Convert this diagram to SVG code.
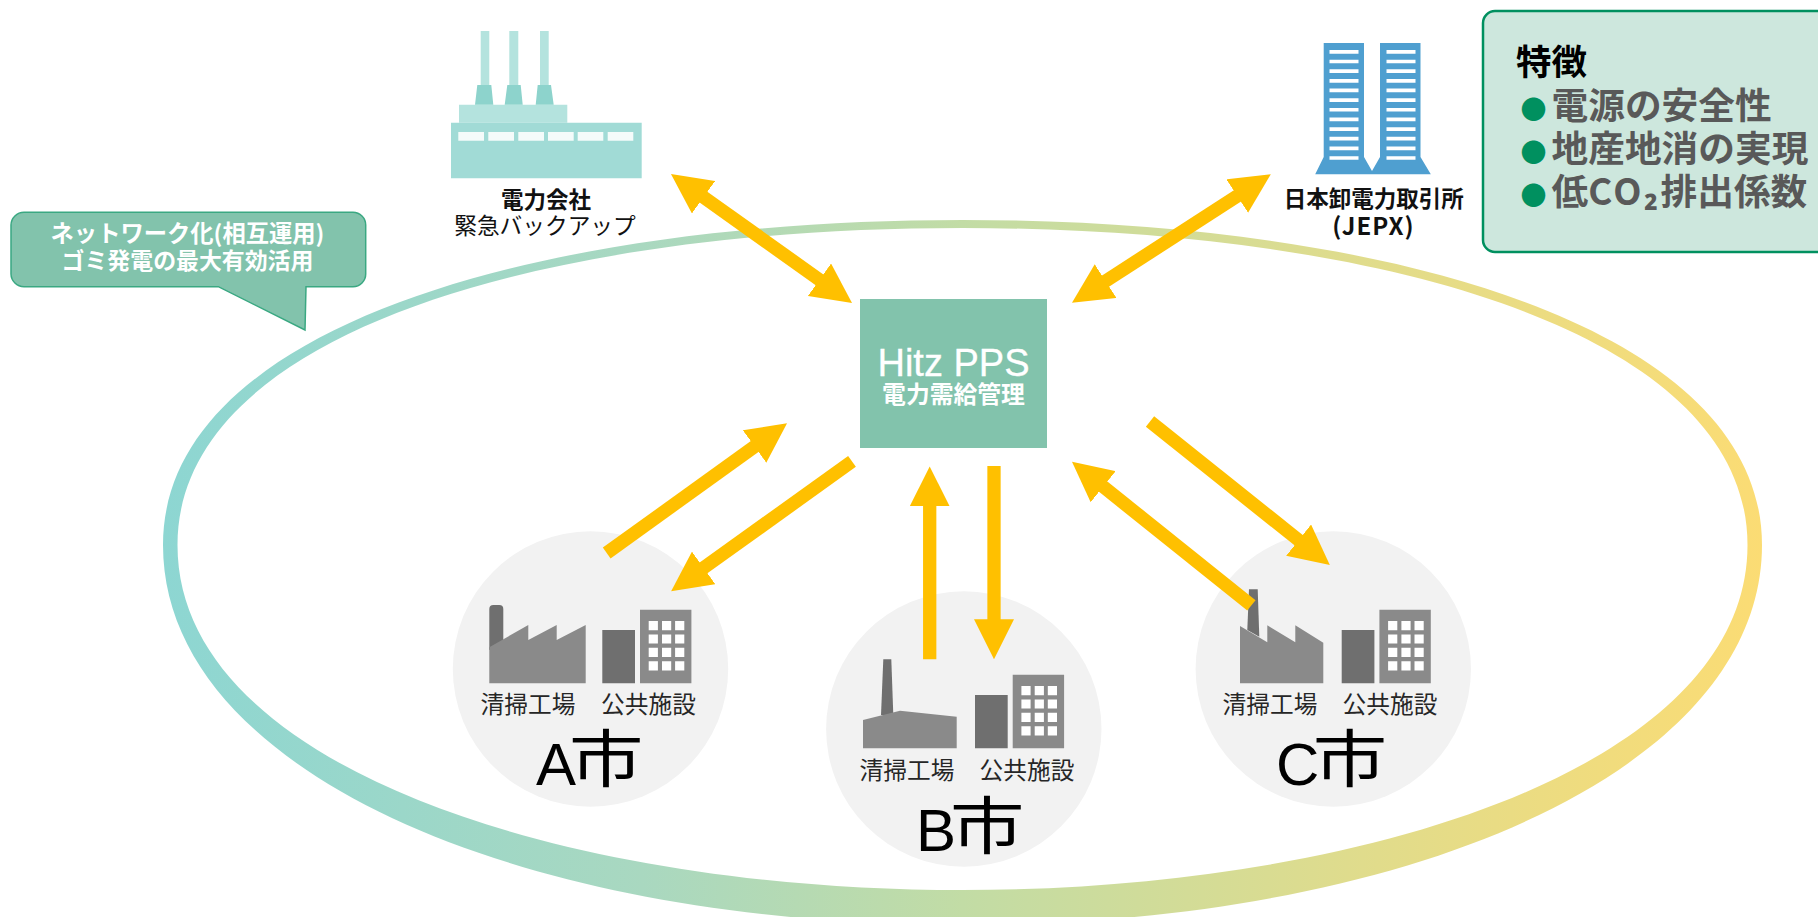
<svg xmlns="http://www.w3.org/2000/svg" xmlns:xlink="http://www.w3.org/1999/xlink" width="1818" height="917" viewBox="0 0 1818 917">
<style>
text{font-family:"Noto Sans CJK JP","Noto Sans",sans-serif}
.cap{font-size:23.7px;fill:#262626;text-anchor:middle}
.city{font-size:62px;fill:#000}
.lat{font-family:"Liberation Sans",sans-serif;font-size:60px;fill:#000}
.lbl{font-size:22.5px;fill:#111;text-anchor:middle}
.b{font-weight:700}
.dk{fill:#6f6f6f}
.lt{fill:#8a8a8a}
.disc{fill:#f2f2f2}
.win{fill:none;stroke:#fff;stroke-width:9.2;stroke-dasharray:9.2 4.2}
.feat{font-size:36.7px;font-weight:700;fill:#595959}
.dot{fill:#00905f;font-size:26px}
.arr{stroke:#ffc000;stroke-width:13.3;fill:none}
.stripe{fill:none;stroke:#fff;stroke-width:29;stroke-dasharray:3.7 5.95}
</style>
<defs>
<linearGradient id="ringGrad" x1="163" y1="0" x2="1762" y2="0" gradientUnits="userSpaceOnUse">
<stop offset="0" stop-color="#8dd6d2"/>
<stop offset="0.3" stop-color="#a9d8c0"/>
<stop offset="0.5" stop-color="#c2dca5"/>
<stop offset="0.75" stop-color="#e0dc8c"/>
<stop offset="1" stop-color="#fbdc74"/>
</linearGradient>
<marker id="head" viewBox="0 0 40 40" refX="10" refY="20" markerWidth="40" markerHeight="40" markerUnits="userSpaceOnUse" orient="auto-start-reverse">
<path d="M0 0L40 20L0 40z" fill="#ffc000"/>
</marker>
<g id="offices">
<path class="lt" d="M37.7 -20.3h51.4v73.6h-51.4z"/>
<path class="dk" d="M0 0h32.7v53.3h-32.7z"/>
<path class="win" d="M51 -9v49.4M64.3 -9v49.4M77.4 -9v49.4"/>
</g>
</defs>

<g id="ring">
<path fill="url(#ringGrad)" fill-rule="evenodd" d="M163 545C163 324 546 220 962.500 220C1379 220 1762 324 1762 545C1762 773 1403 925 962.500 925C522 925 163 773 163 545zM177.500 545C177.500 329 554 228 962.500 228C1371 228 1747.500 329 1747.500 545C1747.500 770 1355 890 962.500 890C570 890 177.500 770 177.500 545z"/>
</g>

<g id="plant">
<path fill="#b4e3de" d="M480.700 31h8.600v54h-8.600zM509.300 31h9v54h-9zM540 31h8.700v54H540zM459 104.700h108.300v18H459z"/>
<path fill="#8dd3cc" d="M477.300 85h14l2 19.700H475zM507.300 85h13.400l2 19.700h-18zM537.700 85H551l2.700 19.700h-18z"/>
<path fill="#a1dbd6" d="M451 122.700h190.700v55.600H451z"/>
<path fill="#f4fbfa" d="M458.300 132H484v8.700h-25.700zM488.300 132H514v8.700h-25.700zM518.300 132H544v8.700h-25.700zM548 132h25.700v8.700H548zM577.700 132h25.600v8.700h-25.600zM607.700 132h25.600v8.700h-25.600z"/>
<text class="lbl b" x="546" y="207.500">電力会社</text>
<text class="lbl" x="545" y="234" style="font-size:22.700px">緊急バックアップ</text>
</g>

<g id="jepx">
<path fill="#4f9fd0" d="M1323.700 43H1364V157L1372 171L1380 157V43h40.500V157L1430.800 174.300H1315.200L1323.700 157z"/>
<path class="stripe" d="M1344 50V162M1401 50V162"/>
<text class="lbl b" x="1373.700" y="207">日本卸電力取引所</text>
<text class="lbl b" x="1373.500" y="235" style="font-size:24px;letter-spacing:1px">(JEPX)</text>
</g>

<g id="features">
<rect x="1483" y="11" width="360" height="241" rx="12" fill="#cde7dd" stroke="#00905f" stroke-width="2.500"/>
<text x="1516" y="75" style="font-size:35.500px;font-weight:700;fill:#000">特徴</text>
<text class="feat" y="118.500"><tspan class="dot" x="1520.500">●</tspan><tspan x="1551.500">電源の安全性</tspan></text>
<text class="feat" y="161.500"><tspan class="dot" x="1520.500">●</tspan><tspan x="1551.500">地産地消の実現</tspan></text>
<text class="feat" y="205"><tspan class="dot" x="1520.500">●</tspan><tspan x="1551.500">低</tspan><tspan style="letter-spacing:2.500px">CO₂</tspan><tspan>排出係数</tspan></text>
</g>

<g id="callout">
<path fill="#82c3ac" stroke="#3aa882" stroke-width="1.500" d="M24 212.300H353a12.700 12.700 0 0 1 12.700 12.700V274a12.700 12.700 0 0 1 -12.700 12.700H306L305 330L218.300 286.700H24A13 13 0 0 1 11 274V225A13 13 0 0 1 24 212.300z"/>
<text x="187.500" y="241.500" text-anchor="middle" style="font-size:23.300px;font-weight:700;fill:#fff">ネットワーク化(相互運用)</text>
<text x="187.500" y="269" text-anchor="middle" style="font-size:22.900px;font-weight:700;fill:#fff">ゴミ発電の最大有効活用</text>
</g>

<g id="hitz">
<rect x="860" y="299" width="187" height="149" fill="#82c3ac"/>
<text x="953.500" y="375.500" text-anchor="middle" style="font-family:'Liberation Sans',sans-serif;font-size:38px;fill:#fff;stroke:#fff;stroke-width:.3px">Hitz PPS</text>
<text x="953.500" y="403" text-anchor="middle" style="font-size:23.800px;font-weight:700;fill:#fff">電力需給管理</text>
</g>

<g id="city-a">
<circle class="disc" cx="590.500" cy="669" r="137.700"/>
<path class="dk" d="M489.300 650V609a4 4 0 0 1 4 -4h6a4 4 0 0 1 4 4V645z"/>
<path class="lt" d="M489.300 647.300L528.300 625V640L556.700 625V640L585.700 625V683.300H489.300z"/>
<use xlink:href="#offices" href="#offices" x="602.300" y="630"/>
<text class="cap" x="528" y="713">清掃工場</text>
<text class="cap" x="648.500" y="713">公共施設</text>
<text class="lat" x="536" y="785">A</text>
<text class="city" transform="translate(569 782.400) scale(1.2 1)">市</text>
</g>

<g id="city-b">
<circle class="disc" cx="963.800" cy="729" r="137.700"/>
<path class="dk" d="M883.300 659.300h8l2 55.700H881z"/>
<path class="lt" d="M863 720L900 710.700L956.700 716.700V748.300H863z"/>
<use xlink:href="#offices" href="#offices" x="975" y="695"/>
<text class="cap" x="907" y="779">清掃工場</text>
<text class="cap" x="1027" y="779">公共施設</text>
<text class="lat" x="916" y="851">B</text>
<text class="city" transform="translate(950 849.400) scale(1.2 1)">市</text>
</g>

<g id="city-c">
<circle class="disc" cx="1333.300" cy="669" r="137.700"/>
<path class="dk" d="M1249 589.300h8.700l1.600 47.400L1247.300 630z"/>
<path class="lt" d="M1240 626L1267.300 642.300V625.300L1295.300 642.300V625.300L1323.300 642.700V683.300H1240z"/>
<use xlink:href="#offices" href="#offices" x="1341.700" y="630"/>
<text class="cap" x="1270" y="713">清掃工場</text>
<text class="cap" x="1390" y="713">公共施設</text>
<text class="lat" x="1276" y="785">C</text>
<text class="city" transform="translate(1312.700 782.400) scale(1.2 1)">市</text>
</g>

<g id="connectors">
<path class="arr" marker-start="url(#head)" marker-end="url(#head)" d="M695.400 191.400L827.600 285.600"/>
<path class="arr" marker-start="url(#head)" marker-end="url(#head)" d="M1245.600 190.600L1097.200 286.500"/>
<path class="arr" marker-end="url(#head)" d="M606.700 553L762.700 440.700"/>
<path class="arr" marker-end="url(#head)" d="M852 461.400L695.500 573.700"/>
<path class="arr" marker-end="url(#head)" d="M929.700 659.300V496.400"/>
<path class="arr" marker-end="url(#head)" d="M994 466V629.300"/>
<path class="arr" marker-end="url(#head)" d="M1251.400 605.400L1095.400 480.400"/>
<path class="arr" marker-end="url(#head)" d="M1150 421.500L1306.400 546.400"/>
</g>
</svg>
